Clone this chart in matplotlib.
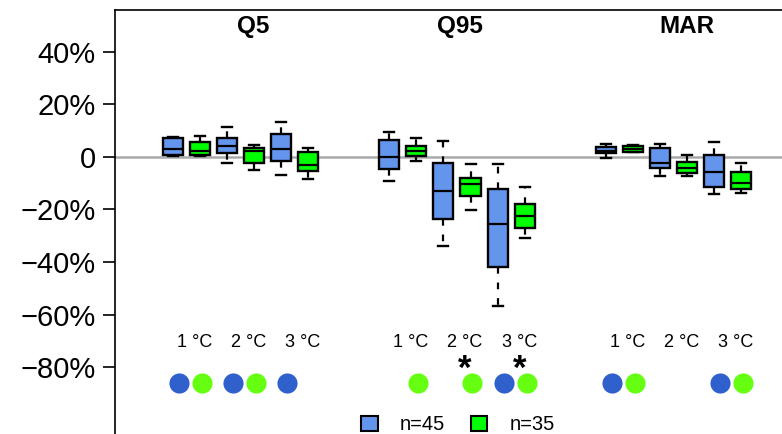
import matplotlib.pyplot as plt
from matplotlib.patches import Patch

plt.rcParams['font.family'] = ['Liberation Sans', 'DejaVu Sans']

# box statistics (% change): whisker low, q1, median, q3, whisker high
groups = ['Q5', 'Q95', 'MAR']
temps = ['1 °C', '2 °C', '3 °C']

q5_blue = [[0.3, 0.6, 2.9, 7.2, 7.6], [-2.3, 1.3, 4.2, 7.2, 11.2], [-7.0, -1.5, 2.9, 8.5, 13.3]]
q5_green = [[0.4, 0.6, 2.2, 5.7, 8.0], [-5.1, -2.5, 2.3, 3.2, 4.4], [-8.5, -5.4, -3.2, 1.9, 3.2]]
q95_blue = [[-9.2, -4.8, 0.0, 6.3, 9.3], [-33.8, -23.6, -12.9, -2.5, 6.0], [-56.7, -41.8, -25.7, -12.4, -2.9]]
q95_green = [[-1.5, 0.4, 2.3, 4.2, 7.0], [-20.3, -14.9, -10.5, -8.0, -2.9], [-31.0, -27.2, -22.4, -18.1, -11.4]]
mar_blue = [[-0.4, 1.3, 2.3, 3.8, 4.7], [-7.3, -4.4, -2.5, 3.4, 4.7], [-14.2, -11.4, -5.7, 0.6, 5.5]]
mar_green = [[1.7, 1.9, 2.9, 4.2, 4.4], [-7.3, -6.3, -4.4, -2.1, 0.6], [-13.9, -12.4, -9.9, -5.9, -2.3]]

blue_stats = q5_blue + q95_blue + mar_blue
green_stats = q5_green + q95_green + mar_green

# significance markers per group/temperature
sig_blue = [1, 1, 1, 0, 0, 1, 1, 0, 1]
sig_green = [1, 1, 0, 1, 1, 1, 1, 0, 1]
stars = [0, 0, 0, 0, 1, 1, 0, 0, 0]

n_blue = 45
n_green = 35

box_blue = '#6495ED'
box_green = '#00FF00'
dot_blue = '#3060CC'
dot_green = '#66FF11'

# pair centres: 3 pairs per group, groups separated by a gap of 2 slots
pair_pos = []
for g in range(3):
    for t in range(3):
        pair_pos.append(1.5 + 8 * g + 2 * t)


def to_bxp(stats, label):
    return [dict(whislo=s[0], q1=s[1], med=s[2], q3=s[3], whishi=s[4], label=label) for s in stats]


fig = plt.figure(figsize=(7.82, 4.34), dpi=100)
ax = fig.add_axes([0.147, -0.06, 0.876, 1.037])

ax.axhline(0, color='#AAAAAA', lw=1.8, zorder=0)

for stats, color, shift in [(blue_stats, box_blue, -0.5), (green_stats, box_green, 0.5)]:
    pos = [p + shift for p in pair_pos]
    ax.bxp(to_bxp(stats, ''), positions=pos, widths=0.74, capwidths=0.37,
           showfliers=False, patch_artist=True, manage_ticks=False,
           boxprops=dict(facecolor=color, edgecolor='black', lw=1.7),
           medianprops=dict(color='black', lw=1.6),
           whiskerprops=dict(color='black', lw=1.6, linestyle=(0, (3, 4))),
           capprops=dict(color='black', lw=1.7))

# temperature labels, significance dots and stars
for i, p in enumerate(pair_pos):
    ax.text(p + 0.3, -70.5, temps[i % 3], ha='center', va='center', fontsize=13)
    if sig_blue[i]:
        ax.plot(p + 0.15 - 0.42, -86, 'o', ms=14.5, color=dot_blue, mec='none')
    if sig_green[i]:
        ax.plot(p + 0.15 + 0.42, -86, 'o', ms=14.5, color=dot_green, mec='none')
    if stars[i]:
        ax.text(p + 0.3, -81, '*', ha='center', va='center', fontsize=25, fontweight='bold')

for g, x in zip(groups, [3.96, 11.6, 20.0]):
    ax.text(x, 49.5, g, ha='center', va='center', fontsize=17.5, fontweight='bold')

ax.set_xlim(-1.144, 24.18)
ax.set_ylim(-115.3, 55.8)
ax.set_yticks([40, 20, 0, -20, -40, -60, -80])
ax.set_yticklabels(['40%', '20%', '0', '\u221220%', '\u221240%', '\u221260%', '\u221280%'])
ax.tick_params(axis='y', labelsize=21, length=9, width=1.2, pad=5)
ax.set_xticks([])
for side in ['left', 'top']:
    ax.spines[side].set_linewidth(1.2)
ax.spines['right'].set_visible(False)
ax.spines['bottom'].set_visible(False)

handles = [Patch(facecolor=box_blue, edgecolor='black', lw=1.5, label=f'n={n_blue}'),
           Patch(facecolor=box_green, edgecolor='black', lw=1.5, label=f'n={n_green}')]
fig.legend(handles=handles, loc='center', bbox_to_anchor=(458 / 782, 1 - 425 / 434),
           ncol=2, frameon=False, fontsize=14.5, handlelength=0.8, handleheight=0.8,
           handletextpad=1.1, columnspacing=1.3, borderpad=0.1)

fig.savefig('out.png', dpi=100)
